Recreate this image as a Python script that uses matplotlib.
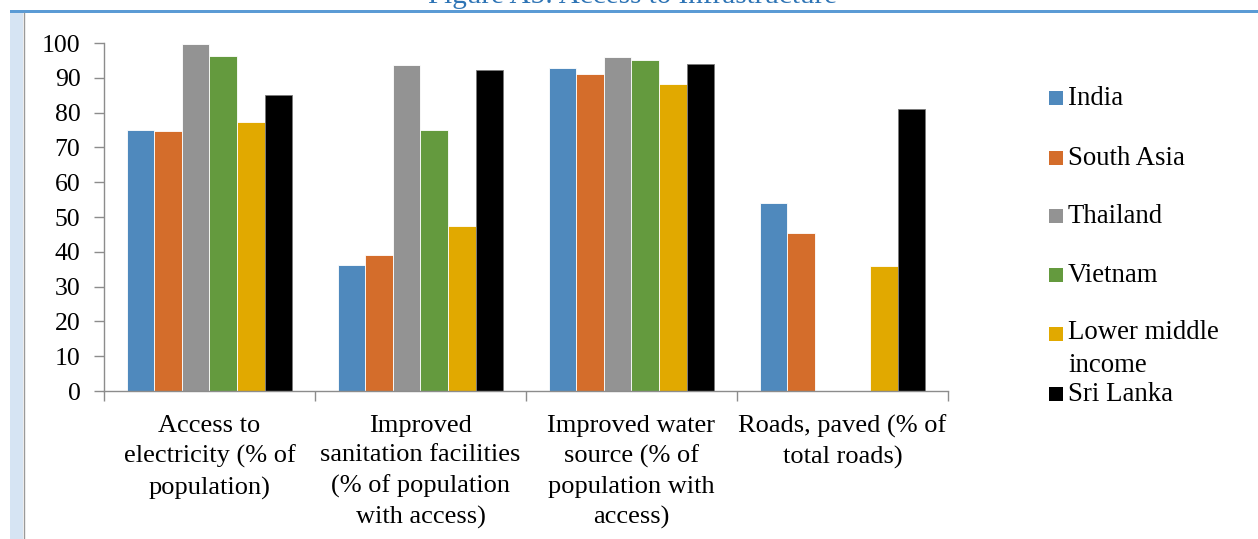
import numpy as np
import matplotlib.pyplot as plt
from matplotlib.patches import Rectangle
from matplotlib.lines import Line2D

categories = ["Access to\nelectricity (% of\npopulation)",
              "Improved\nsanitation facilities\n(% of population\nwith access)",
              "Improved water\nsource (% of\npopulation with\naccess)",
              "Roads, paved (% of\ntotal roads)"]
series = ["India", "South Asia", "Thailand", "Vietnam", "Lower middle\nincome", "Sri Lanka"]
india = [75.0, 36.2, 92.7, 53.9]
south_asia = [74.6, 39.0, 91.2, 45.3]
thailand = [99.8, 93.6, 96.0, np.nan]
vietnam = [96.2, 75.1, 95.1, np.nan]
lower_middle = [77.3, 47.5, 88.2, 36.0]
sri_lanka = [85.2, 92.3, 94.0, 81.1]
colors = ["#4F89BD", "#D46D2B", "#939393", "#649A3E", "#E1A900", "#000000"]

values = [india, south_asia, thailand, vietnam, lower_middle, sri_lanka]

plt.rcParams['font.family'] = ['Liberation Serif', 'DejaVu Serif']

W, H = 1258, 539
fig = plt.figure(figsize=(W / 100, H / 100), dpi=100)
ax = fig.add_axes([104 / W, 1 - 391 / H, 844 / W, 348 / H])

x = np.arange(len(categories))
bw = 0.131
for i, (vals, c) in enumerate(zip(values, colors)):
    ec = "#7a7a7a" if c == "#000000" else "white"
    ax.bar(x + (i - 2.5) * bw, vals, bw, color=c, edgecolor=ec, linewidth=0.6)

ax.set_xlim(-0.5, 3.5)
ax.set_ylim(0, 100)
ax.set_yticks(np.arange(0, 101, 10))
ax.set_xticks(x)
ax.set_xticklabels(categories, fontsize=19, linespacing=1.46, va='top')
ax.set_xticks(np.arange(-0.5, 3.6, 1), minor=True)
ax.tick_params(axis='x', which='major', length=0, pad=17)
ax.tick_params(axis='x', which='minor', length=7, color='#8c8c8c', width=1)
ax.tick_params(axis='y', length=7, color='#8c8c8c', width=1, labelsize=18.5, pad=10)
for s in ['top', 'right']:
    ax.spines[s].set_visible(False)
for s in ['left', 'bottom']:
    ax.spines[s].set_color('#8c8c8c')
    ax.spines[s].set_linewidth(1)

# legend drawn by hand: first text line sits level with the swatch
leg_base = [105, 165, 223, 282, 341, 401]
for lab, c, yb in zip(series, colors, leg_base):
    fig.add_artist(Rectangle((1049 / W, 1 - yb / H), 14 / W, 14 / H,
                             transform=fig.transFigure, color=c, lw=0))
    last = yb + 31 * lab.count("\n")
    fig.text(1068 / W, 1 - last / H, lab, fontsize=19.3, va='baseline',
             ha='left', linespacing=1.4)

# page decorations
fig.add_artist(Rectangle((10 / W, 0), 13 / W, 1 - 13 / H, transform=fig.transFigure,
                         color='#D6E4F3', lw=0))
fig.add_artist(Line2D([24 / W, 24 / W], [0, 1 - 13 / H], transform=fig.transFigure,
                      color='#9a9a9a', lw=1))
fig.add_artist(Rectangle((10 / W, 1 - 13 / H), 1 - 10 / W, 3 / H, transform=fig.transFigure,
                         color='#5B9BD5', lw=0))
fig.text(633 / W, 1 - 3 / H, "Figure A5: Access to Infrastructure", fontsize=21,
         color='#2E74B5', ha='center', va='baseline')

plt.savefig("out.png", dpi=100)
